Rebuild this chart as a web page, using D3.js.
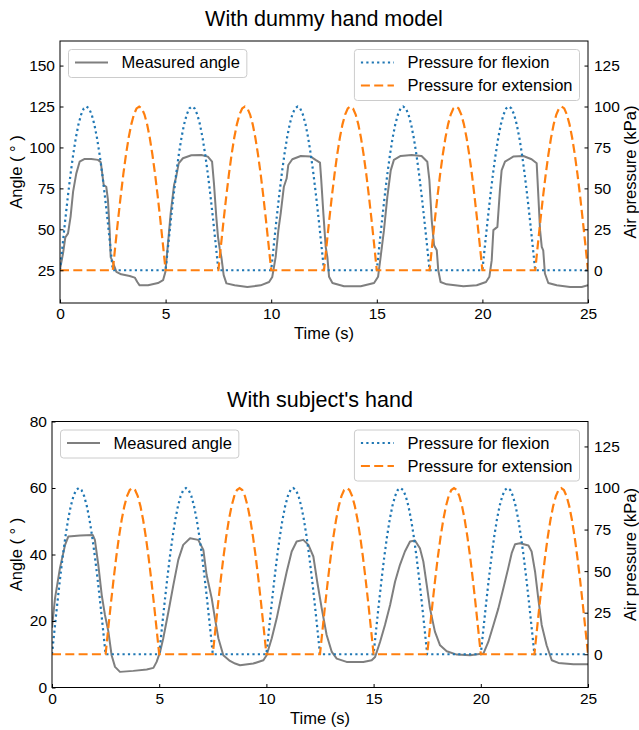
<!DOCTYPE html>
<html>
<head>
<meta charset="utf-8">
<script src="https://cdn.jsdelivr.net/npm/d3@7"></script>
<style>
  body { margin: 0; background: #fff; }
  svg { font-family: "Liberation Sans", Arial, sans-serif; }
</style>
</head>
<body>
<div id="chart"></div>
<script>
// time axis
const timeDomain = [0, 25];
const timeTicks = [0, 5, 10, 15, 20, 25];
const pressureDomain = [-20, 140];
const pressureTicks = [0, 25, 50, 75, 100, 125];

// one pressure pulse (offset in s, kPa)
const pulseOffset = [0, 0.125, 0.25, 0.375, 0.5, 0.625, 0.75, 0.875, 1, 1.125, 1.25,
  1.375, 1.5, 1.625, 1.75, 1.875, 2, 2.125, 2.25, 2.375, 2.5];
const pulseKPa = [0, 15.6, 30.9, 45.4, 58.8, 70.7, 80.9, 89.1, 95.1, 98.8, 100,
  98.8, 95.1, 89.1, 80.9, 70.7, 58.8, 45.4, 30.9, 15.6, 0];
const flexionStarts = [0, 5, 10, 15, 20];
const extensionStarts = [2.5, 7.5, 12.5, 17.5, 22.5];

// measured angle, dummy hand model [s, deg]
const dummyAngle = [[0.0,25.5],[0.14,35],[0.25,45],[0.38,47.5],[0.5,57.6],[0.62,73],[0.77,84],[0.93,91.3],
  [1.17,93],[1.48,93],[1.8,92.4],[1.93,91],[2.0,84],[2.07,77],[2.19,76],[2.27,68],[2.35,49.5],[2.4,33],
  [2.5,30],[2.67,24],[2.9,22.5],[3.3,21.5],[3.54,20.5],[3.66,17.8],[3.77,15.8],[4.17,15.8],[4.64,17.2],
  [4.88,18.9],[4.99,24],[5.11,41],[5.24,59.7],[5.4,77],[5.5,82],[5.62,90.3],[5.82,93.4],[6.22,95.2],
  [6.69,95.4],[7.0,94.4],[7.2,91.3],[7.29,78],[7.4,57.6],[7.48,45.4],[7.56,38.3],[7.64,33.1],[7.75,22],
  [7.88,17],[8.27,15.8],[8.87,14.8],[9.5,15.8],[9.9,17.8],[10.05,20.9],[10.21,33],[10.34,49.5],[10.45,59.7],
  [10.6,76],[10.73,81],[10.81,89.3],[11.0,92.8],[11.4,94.8],[11.87,94.4],[12.1,92.4],[12.31,90.7],[12.37,80],
  [12.47,59.7],[12.58,39.3],[12.66,33],[12.74,21],[12.9,17.2],[13.45,15.2],[14.24,15.2],[14.87,17.2],
  [15.06,21],[15.18,33],[15.34,49.5],[15.5,70],[15.66,86],[15.81,92.4],[16.13,94.8],[16.65,95.4],[17.12,94.8],
  [17.39,91.3],[17.49,80],[17.6,55.6],[17.71,40.3],[17.84,37.2],[17.91,25],[18.02,17.8],[18.31,16.4],
  [19.1,15.2],[19.73,15.8],[20.17,17.8],[20.33,21],[20.44,31],[20.52,49.5],[20.71,51.5],[20.83,74],
  [20.91,86],[21.07,91.3],[21.46,94.4],[21.94,94.8],[22.33,92.8],[22.57,90.3],[22.65,70],[22.73,49.5],
  [22.81,39.3],[22.88,37.2],[22.96,23],[23.12,17.2],[23.52,15.8],[24.15,14.8],[24.7,14.8],[25,15.8]];

// measured angle, subject's hand [s, deg]
const subjectAngle = [[0,18],[0.14,26.8],[0.37,35.9],[0.61,42.9],[0.76,45.4],[1.31,45.7],[1.9,45.9],[2.0,44.4],
  [2.16,36.9],[2.32,27.8],[2.47,21.8],[2.63,16.8],[2.78,9.7],[2.94,6.2],[3.17,4.7],[3.79,5.0],[4.42,5.4],
  [4.73,5.9],[4.88,7.7],[5.04,10.7],[5.19,14.8],[5.43,22.8],[5.66,30.8],[5.89,38.4],[6.12,42.9],[6.44,44.9],
  [6.82,44.4],[7.06,41.4],[7.21,33.9],[7.45,26.8],[7.6,20.8],[7.76,14.8],[7.99,9.7],[8.3,8.0],[8.54,7.2],
  [8.77,6.7],[9.39,7.2],[9.86,8.2],[10.01,9.7],[10.25,14.8],[10.48,20.8],[10.71,27.8],[10.95,34.9],
  [11.18,40.9],[11.41,43.9],[11.72,44.4],[11.96,42.9],[12.19,39.4],[12.37,31.8],[12.58,23.8],[12.81,15.8],
  [13.05,10.7],[13.28,8.7],[13.74,7.7],[14.52,7.7],[14.91,8.2],[15.07,9.2],[15.3,13.7],[15.53,18.8],
  [15.77,24.8],[16.0,31.8],[16.23,36.9],[16.46,40.9],[16.7,43.9],[16.93,44.2],[17.16,41.9],[17.32,37.9],
  [17.48,30.8],[17.63,23.8],[17.86,16.8],[18.1,12.7],[18.41,10.9],[18.88,9.9],[19.5,9.7],[20.12,10.2],
  [20.35,13.7],[20.59,18.8],[20.82,23.8],[21.05,29.8],[21.28,35.9],[21.44,40.4],[21.6,43.1],[21.83,43.4],
  [22.22,42.7],[22.37,40.9],[22.53,34.9],[22.68,26.8],[22.84,18.8],[23.07,12.7],[23.31,8.2],[23.62,7.4],
  [24.32,7.0],[25,7.0]];

const dummyTicks = [25, 50, 75, 100, 125, 150];
const subjectTicks = [0, 20, 40, 60, 80];

const W = 639, H = 730;
const svg = d3.select('#chart').append('svg').attr('width', W).attr('height', H);

function pulseTrain(starts) {
  let pts = [];
  if (starts[0] > timeDomain[0]) pts.push([timeDomain[0], 0]);
  starts.forEach(function(s) {
    pulseOffset.forEach(function(o, i) { pts.push([s + o, pulseKPa[i]]); });
  });
  if (pts[pts.length - 1][0] < timeDomain[1]) pts.push([timeDomain[1], 0]);
  return pts;
}

function drawLegend(g, x0, y0, items, alignRight) {
  const lg = g.append('g');
  const box = lg.append('rect').attr('rx', 3).attr('ry', 3)
    .attr('fill', 'rgba(255,255,255,0.8)').attr('stroke', '#cccccc').attr('stroke-width', 1);
  let maxW = 0;
  items.forEach(function(it, i) {
    const cy = y0 + 13 + 23 * i;
    lg.append('line').attr('x1', 6.5).attr('x2', 39.5).attr('y1', cy).attr('y2', cy)
      .attr('stroke', it.color).attr('stroke-width', it.width).attr('stroke-dasharray', it.dash);
    const t = lg.append('text').attr('x', 53).attr('y', cy).attr('dy', '0.36em')
      .attr('font-size', '16.5px').attr('fill', '#000').text(it.label);
    maxW = Math.max(maxW, t.node().getComputedTextLength());
  });
  const bw = 53 + maxW + 7;
  const bx = alignRight ? x0 - bw : x0;
  box.attr('x', 0).attr('y', y0).attr('width', bw).attr('height', 5 + 23 * items.length);
  lg.attr('transform', 'translate(' + bx + ',0)');
}

function drawPanel(p) {
  const g = svg.append('g');
  const x = d3.scaleLinear().domain(timeDomain).range([p.l, p.r]);
  const yL = d3.scaleLinear().domain(p.angleDomain).range([p.b, p.t]);
  const yR = d3.scaleLinear().domain(pressureDomain).range([p.b, p.t]);

  const clipId = 'clip' + p.id;
  svg.append('clipPath').attr('id', clipId).append('rect')
    .attr('x', p.l).attr('y', p.t).attr('width', p.r - p.l).attr('height', p.b - p.t);

  const angleLine = d3.line().x(d => x(d[0])).y(d => yL(d[1]));
  const pressLine = d3.line().x(d => x(d[0])).y(d => yR(d[1]));

  const plot = g.append('g').attr('clip-path', 'url(#' + clipId + ')');
  plot.append('path').datum(p.angle).attr('d', angleLine)
    .attr('fill', 'none').attr('stroke', '#7f7f7f').attr('stroke-width', 2)
    .attr('stroke-linejoin', 'round');
  plot.append('path').datum(pulseTrain(flexionStarts)).attr('d', pressLine)
    .attr('fill', 'none').attr('stroke', '#1f77b4').attr('stroke-width', 2.2)
    .attr('stroke-dasharray', '2.2,3.2');
  plot.append('path').datum(pulseTrain(extensionStarts)).attr('d', pressLine)
    .attr('fill', 'none').attr('stroke', '#ff7f0e').attr('stroke-width', 2.2)
    .attr('stroke-dasharray', '9,4.3');

  // axes, ticks inward
  const fs = '15.5px';
  const ax = g.append('g').attr('transform', 'translate(0,' + p.b + ')')
    .call(d3.axisBottom(x).tickValues(timeTicks).tickSizeInner(-3.5).tickSizeOuter(0).tickPadding(5));
  const ayl = g.append('g').attr('transform', 'translate(' + p.l + ',0)')
    .call(d3.axisLeft(yL).tickValues(p.angleTicks).tickSizeInner(-3.5).tickSizeOuter(0).tickPadding(5));
  const ayr = g.append('g').attr('transform', 'translate(' + p.r + ',0)')
    .call(d3.axisRight(yR).tickValues(pressureTicks).tickSizeInner(-3.5).tickSizeOuter(0).tickPadding(6));
  [ax, ayl, ayr].forEach(function(a) {
    a.select('.domain').remove();
    a.selectAll('text').attr('font-size', fs).attr('fill', '#000')
      .attr('font-family', '"Liberation Sans", Arial, sans-serif');
    a.selectAll('line').attr('stroke', '#000');
  });

  g.append('rect').attr('x', p.l).attr('y', p.t).attr('width', p.r - p.l).attr('height', p.b - p.t)
    .attr('fill', 'none').attr('stroke', '#000').attr('stroke-width', 1);

  // labels
  g.append('text').attr('x', (p.l + p.r) / 2).attr('y', p.titleY).attr('text-anchor', 'middle')
    .attr('font-size', '21.5px').text(p.title);
  g.append('text').attr('x', (p.l + p.r) / 2).attr('y', p.b + 36).attr('text-anchor', 'middle')
    .attr('font-size', '16.5px').text('Time (s)');
  g.append('text').attr('transform', 'translate(16,' + ((p.t + p.b) / 2) + ') rotate(-90)')
    .attr('text-anchor', 'middle').attr('dy', '0.36em').attr('font-size', '16.5px').text('Angle ( ° )');
  g.append('text').attr('transform', 'translate(630,' + ((p.t + p.b) / 2) + ') rotate(-90)')
    .attr('text-anchor', 'middle').attr('dy', '0.36em').attr('font-size', '16.5px').text('Air pressure (kPa)');

  drawLegend(g, p.l + 8.5, p.t + 8.5,
    [{ label: 'Measured angle', color: '#7f7f7f', width: 2, dash: null }], false);
  drawLegend(g, p.r - 8.5, p.t + 8.5, [
    { label: 'Pressure for flexion', color: '#1f77b4', width: 2.2, dash: '2.2,3.2' },
    { label: 'Pressure for extension', color: '#ff7f0e', width: 2.2, dash: '9,4.3' }
  ], true);
}

drawPanel({ id: 1, title: 'With dummy hand model', angle: dummyAngle, angleDomain: [5, 165],
  angleTicks: dummyTicks, l: 60, r: 588, t: 41, b: 303, titleY: 26 });
drawPanel({ id: 2, title: "With subject's hand", angle: subjectAngle, angleDomain: [0, 80],
  angleTicks: subjectTicks, l: 52, r: 588, t: 421.5, b: 687.5, titleY: 407 });
</script>
</body>
</html>
